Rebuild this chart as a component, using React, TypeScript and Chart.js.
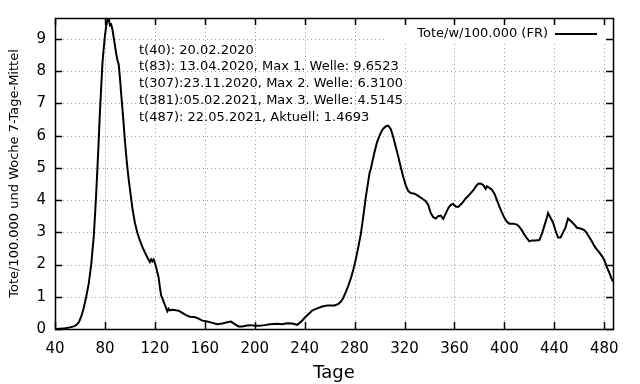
import React, { useEffect, useRef } from "react";
import { Chart, registerables } from "chart.js";

Chart.register(...registerables);

const days = [
  40, 44, 48, 52, 55, 57, 59, 61, 63, 65, 67, 69, 71, 72, 73, 74, 75, 76, 77, 78, 79, 80,
  81, 82, 83, 84, 85, 86, 87, 88, 89, 90, 91, 92, 93, 94, 95, 96, 97, 98, 99, 100,
  102, 104, 106, 108, 110, 112, 114, 116, 117, 118, 119, 120, 121, 122, 123, 124, 125, 126, 128, 130,
  131, 132, 134, 137, 139, 142, 145, 148, 152, 155, 158, 162, 166, 170, 174, 178, 181, 184, 187, 190,
  194, 197, 200, 204, 208, 212, 218, 222, 226, 230, 234, 237, 240, 243, 246, 250, 254, 258, 264, 267,
  269, 271, 273, 275, 277, 279, 281, 283, 285, 287, 289, 291, 292, 293, 294, 296, 298, 300, 302, 304,
  306, 307, 309, 311, 313, 315, 317, 319, 321, 323, 325, 328, 331, 334, 337, 339, 341, 343, 345, 347,
  349, 351, 353, 355, 357, 359, 361, 363, 366, 369, 372, 375, 377, 379, 381, 383, 385, 386, 388, 390,
  392, 394, 396, 398, 400, 402, 404, 407, 410, 412, 414, 416, 418, 420, 422, 425, 428, 430, 432, 434,
  435, 437, 439, 441, 443, 445, 447, 449, 450, 451, 453, 455, 457, 458, 461, 464, 466, 468, 470, 472,
  474, 476, 478, 480, 482, 484, 486, 487,
];

const deathsPer100k = [
  0, 0.01, 0.02, 0.05, 0.08, 0.12, 0.2, 0.38, 0.65, 1.0, 1.4, 2.0, 2.85, 3.5, 4.2, 5.0, 5.85, 6.75, 7.5, 8.25, 8.7, 9.1,
  9.4, 9.6, 9.6523, 9.42, 9.45, 9.3, 9.05, 8.8, 8.55, 8.35, 8.22, 7.8, 7.3, 6.85, 6.35, 5.85, 5.4, 5.0, 4.65, 4.35,
  3.75, 3.3, 2.98, 2.75, 2.55, 2.38, 2.22, 2.08, 2.16, 2.1, 2.16, 2.05, 1.92, 1.75, 1.6, 1.3, 1.05, 0.95, 0.75, 0.55,
  0.63, 0.58, 0.6, 0.58, 0.57, 0.5, 0.43, 0.38, 0.37, 0.32, 0.26, 0.23, 0.19, 0.15, 0.17, 0.21, 0.23, 0.15, 0.08, 0.08,
  0.11, 0.12, 0.1, 0.1, 0.12, 0.15, 0.16, 0.15, 0.18, 0.17, 0.13, 0.22, 0.35, 0.46, 0.57, 0.64, 0.7, 0.73, 0.73, 0.78,
  0.85, 0.97, 1.15, 1.35, 1.57, 1.85, 2.17, 2.55, 2.95, 3.5, 4.1, 4.6, 4.85, 4.97, 5.15, 5.5, 5.8, 6.0, 6.17, 6.26,
  6.31, 6.31, 6.2, 5.95, 5.65, 5.35, 5.02, 4.72, 4.46, 4.28, 4.22, 4.2, 4.13, 4.05, 3.97, 3.85, 3.6, 3.47, 3.43, 3.5,
  3.52, 3.42, 3.58, 3.75, 3.85, 3.88, 3.8, 3.79, 3.9, 4.05, 4.17, 4.3, 4.42, 4.51, 4.5145, 4.47, 4.35, 4.43, 4.38, 4.32,
  4.2, 4.0, 3.8, 3.62, 3.45, 3.33, 3.27, 3.27, 3.24, 3.17, 3.06, 2.93, 2.82, 2.72, 2.75, 2.75, 2.76, 2.95, 3.2, 3.45,
  3.6, 3.45, 3.3, 3.05, 2.84, 2.84, 3.0, 3.15, 3.3, 3.43, 3.36, 3.28, 3.2, 3.14, 3.12, 3.07, 2.98, 2.85, 2.72, 2.58,
  2.47, 2.38, 2.27, 2.14, 1.93, 1.75, 1.55, 1.4693,
];

const xTicks = [40, 80, 120, 160, 200, 240, 280, 320, 360, 400, 440, 480];
const yTicks = [0, 1, 2, 3, 4, 5, 6, 7, 8, 9];
const xMin = 40;
const xMax = 487;
const yMin = 0;
const yMax = 9.6523;

const seriesLabel = "Tote/w/100.000 (FR)";
const xTitle = "Tage";
const yTitle = "Tote/100.000 und Woche 7-Tage-Mittel";
const annotationLines = [
  "t(40): 20.02.2020",
  "t(83): 13.04.2020, Max 1. Welle: 9.6523",
  "t(307):23.11.2020, Max 2. Welle: 6.3100",
  "t(381):05.02.2021, Max 3. Welle: 4.5145",
  "t(487): 22.05.2021, Aktuell: 1.4693",
];

const FONT = "'DejaVu Sans', sans-serif";

const framePlugin = {
  id: "gnuplotFrame",
  beforeDatasetsDraw(chart: any) {
    const { ctx, chartArea: a, scales } = chart;
    const xs = scales.x;
    const ys = scales.y;
    ctx.save();
    ctx.strokeStyle = "#a0a0a0";
    ctx.lineWidth = 1;
    ctx.setLineDash([1, 3]);
    for (const t of xTicks) {
      const px = Math.round(xs.getPixelForValue(t)) + 0.5;
      if (px <= a.left + 1 || px >= a.right - 1) continue;
      ctx.beginPath();
      ctx.moveTo(px, a.bottom);
      ctx.lineTo(px, a.top);
      ctx.stroke();
    }
    for (const t of yTicks) {
      const py = Math.round(ys.getPixelForValue(t)) + 0.5;
      if (py >= a.bottom - 1 || py <= a.top + 1) continue;
      ctx.beginPath();
      ctx.moveTo(a.left, py);
      ctx.lineTo(a.right, py);
      ctx.stroke();
    }
    ctx.setLineDash([]);
    // opaque key box
    ctx.fillStyle = "#ffffff";
    ctx.fillRect(a.right - 226, a.top + 1, 225, 25);
    ctx.restore();
  },
  afterDatasetsDraw(chart: any) {
    const { ctx, chartArea: a, scales } = chart;
    const xs = scales.x;
    const ys = scales.y;
    ctx.save();
    ctx.strokeStyle = "#000000";
    ctx.lineWidth = 1.5;
    const tl = 7;
    ctx.beginPath();
    for (const t of xTicks) {
      const px = Math.round(xs.getPixelForValue(t)) + 0.5;
      ctx.moveTo(px, a.bottom);
      ctx.lineTo(px, a.bottom - tl);
      ctx.moveTo(px, a.top);
      ctx.lineTo(px, a.top + tl);
    }
    for (const t of yTicks) {
      const py = Math.round(ys.getPixelForValue(t)) + 0.5;
      ctx.moveTo(a.left, py);
      ctx.lineTo(a.left + tl, py);
      ctx.moveTo(a.right, py);
      ctx.lineTo(a.right - tl, py);
    }
    ctx.stroke();
    ctx.strokeRect(a.left + 0.5, a.top + 0.5, a.right - a.left, a.bottom - a.top);

    // annotations
    ctx.fillStyle = "#000000";
    ctx.font = "13px " + FONT;
    ctx.textAlign = "left";
    ctx.textBaseline = "middle";
    annotationLines.forEach((line, i) => {
      ctx.fillText(line, a.left + 84, a.top + 32.3 + i * 16.75);
    });

    // legend
    ctx.textAlign = "right";
    ctx.fillText(seriesLabel, a.right - 65, a.top + 16);
    ctx.lineWidth = 2;
    ctx.beginPath();
    ctx.moveTo(a.right - 58, a.top + 16);
    ctx.lineTo(a.right - 16, a.top + 16);
    ctx.stroke();
    ctx.restore();
  },
};

export default function App() {
  const ref = useRef<HTMLCanvasElement | null>(null);

  useEffect(() => {
    if (!ref.current) return;
    const points = days.map((d, i) => ({ x: d, y: deathsPer100k[i] }));
    const chart = new Chart(ref.current, {
      type: "line",
      data: {
        datasets: [
          {
            label: seriesLabel,
            data: points,
            borderColor: "#000000",
            borderWidth: 2,
            pointRadius: 0,
            tension: 0,
            fill: false,
          },
        ],
      },
      options: {
        animation: false,
        responsive: false,
        maintainAspectRatio: false,
        layout: { padding: { top: 17, right: 27, left: 0, bottom: 0 } },
        plugins: {
          legend: { display: false },
          tooltip: { enabled: false },
        },
        scales: {
          x: {
            type: "linear",
            min: xMin,
            max: xMax,
            afterBuildTicks: (s: any) => {
              s.ticks = xTicks.map((v) => ({ value: v }));
            },
            afterFit: (s: any) => {
              s.height = 55;
            },
            grid: { display: false, drawTicks: false },
            border: { display: false },
            ticks: {
              color: "#000000",
              font: { family: FONT, size: 15 },
              padding: 11,
              maxRotation: 0,
              autoSkip: false,
            },
            title: {
              display: true,
              text: xTitle,
              color: "#000000",
              font: { family: FONT, size: 18 },
              padding: { top: 0, bottom: 0 },
            },
          },
          y: {
            type: "linear",
            min: yMin,
            max: yMax,
            afterBuildTicks: (s: any) => {
              s.ticks = yTicks.map((v) => ({ value: v }));
            },
            afterFit: (s: any) => {
              s.width = 55;
            },
            grid: { display: false, drawTicks: false },
            border: { display: false },
            ticks: {
              color: "#000000",
              font: { family: FONT, size: 15 },
              padding: 9,
              autoSkip: false,
            },
            title: {
              display: true,
              text: yTitle,
              color: "#000000",
              font: { family: FONT, size: 13 },
              padding: { top: 7, bottom: 0 },
            },
          },
        },
      },
      plugins: [framePlugin],
    });
    return () => chart.destroy();
  }, []);

  return (
    <div style={{ position: "absolute", left: 0, top: 0, width: 640, height: 384, background: "#ffffff" }}>
      <canvas ref={ref} width={640} height={384} style={{ width: 640, height: 384 }} />
    </div>
  );
}
